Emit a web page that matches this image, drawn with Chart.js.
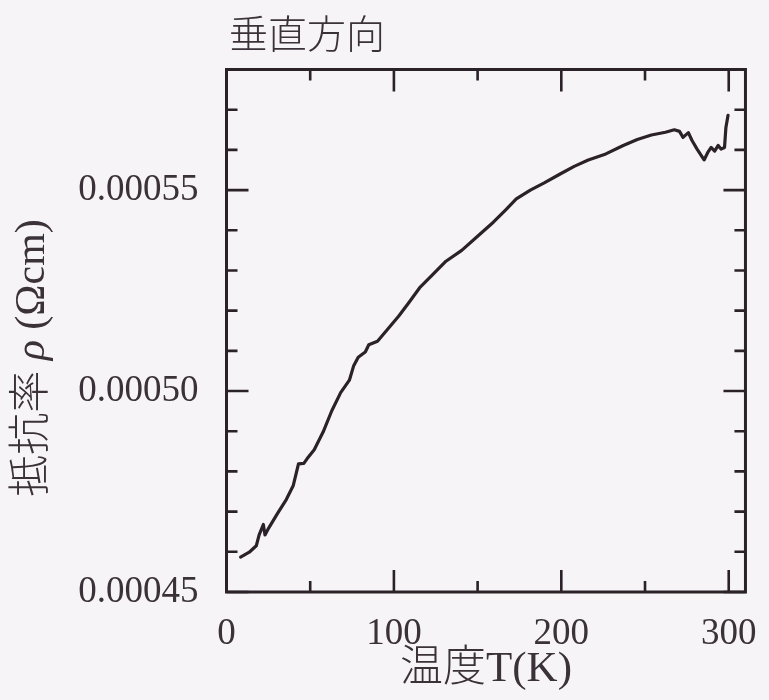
<!DOCTYPE html>
<html>
<head>
<meta charset="utf-8">
<script src="https://cdn.jsdelivr.net/npm/chart.js@4.4.1/dist/chart.umd.min.js"></script>
<style>
html,body{margin:0;padding:0;background:#f7f4f7;}
#wrap{width:769px;height:700px;position:relative;}
</style>
</head>
<body>
<div id="wrap"><canvas id="c" width="769" height="700"></canvas></div>
<script>
// ---- data ----
const temperatureK = [8.4, 13.6, 17.8, 19.5, 22.0, 23.0, 25.2, 30.4, 35.7, 39.9, 43.0, 46.2, 48.2, 52.4, 57.7, 62.9, 68.2, 73.4, 75.9, 78.7, 82.9, 85.0, 90.2, 96.5, 102.8, 109.1, 115.4, 122.7, 131.1, 140.5, 151.0, 159.4, 166.8, 173.1, 181.5, 189.8, 199.3, 207.7, 216.1, 226.6, 237.0, 245.4, 253.8, 262.2, 267.5, 270.6, 272.7, 275.9, 278.0, 281.1, 285.3, 287.4, 289.5, 291.6, 293.7, 295.4, 297.5, 298.3, 299.6];
const resistivity = [0.0004587, 0.0004599, 0.0004615, 0.0004642, 0.0004668, 0.0004642, 0.0004659, 0.0004695, 0.0004730, 0.0004765, 0.0004819, 0.0004820, 0.0004832, 0.0004854, 0.0004898, 0.0004951, 0.0004996, 0.0005027, 0.0005062, 0.0005084, 0.0005097, 0.0005115, 0.0005124, 0.0005155, 0.0005186, 0.0005221, 0.0005257, 0.0005288, 0.0005323, 0.0005350, 0.0005389, 0.0005420, 0.0005451, 0.0005478, 0.0005500, 0.0005518, 0.0005540, 0.0005559, 0.0005575, 0.0005590, 0.0005611, 0.0005626, 0.0005637, 0.0005644, 0.0005650, 0.0005646, 0.0005631, 0.0005643, 0.0005624, 0.0005602, 0.0005575, 0.0005593, 0.0005606, 0.0005597, 0.0005611, 0.0005602, 0.0005606, 0.0005655, 0.0005686];
const xMajorTicks = [0, 100, 200, 300];
const xMinorTicks = [50, 150, 250];
const yMajorTicks = [0.00045, 0.00050, 0.00055];
const yMinorTicks = [0.00046, 0.00047, 0.00048, 0.00049, 0.00051, 0.00052, 0.00053, 0.00054, 0.00056, 0.00057];
const chartTitle = "垂直方向";
const xTitle = "温度T(K)";
const yTitleParts = ["抵抗率 ", "ρ", " (Ωcm)"];

const INK = '#2b2129';
const TEXT = '#3a3139';
const SERIF = '"Liberation Serif", "Noto Sans CJK JP", serif';

const bgPlugin = {
  id: 'bg',
  beforeDraw(chart) {
    const ctx = chart.ctx;
    ctx.save();
    ctx.fillStyle = '#f7f4f7';
    ctx.fillRect(0, 0, chart.width, chart.height);
    ctx.restore();
  }
};

const framePlugin = {
  id: 'frame',
  afterDatasetsDraw(chart) {
    const {ctx, chartArea: a, scales} = chart;
    const xs = scales.x, ys = scales.y;
    ctx.save();
    ctx.strokeStyle = INK;
    ctx.lineCap = 'butt';
    ctx.lineWidth = 2.6;
    const tick = (vals, len) => {
      vals.forEach(v => {
        const px = xs.getPixelForValue(v);
        ctx.beginPath();
        ctx.moveTo(px, a.bottom); ctx.lineTo(px, a.bottom - len);
        ctx.moveTo(px, a.top); ctx.lineTo(px, a.top + len);
        ctx.stroke();
      });
    };
    const ytick = (vals, len) => {
      vals.forEach(v => {
        const py = ys.getPixelForValue(v);
        ctx.beginPath();
        ctx.moveTo(a.left, py); ctx.lineTo(a.left + len, py);
        ctx.moveTo(a.right, py); ctx.lineTo(a.right - len, py);
        ctx.stroke();
      });
    };
    tick(xMajorTicks, 22);
    tick(xMinorTicks, 11);
    ytick(yMajorTicks, 22);
    ytick(yMinorTicks, 11);
    ctx.lineWidth = 3;
    ctx.strokeRect(a.left, a.top, a.right - a.left, a.bottom - a.top);
    ctx.restore();
  }
};

const titlesPlugin = {
  id: 'titles',
  afterDraw(chart) {
    const {ctx, chartArea: a} = chart;
    ctx.save();
    ctx.fillStyle = TEXT;
    ctx.textBaseline = 'middle';
    // main title
    ctx.font = '300 39px "Noto Sans CJK JP", sans-serif';
    ctx.textAlign = 'left';
    ctx.fillText(chartTitle, 229, 33);
    // x title
    ctx.font = '300 43px ' + SERIF;
    ctx.textAlign = 'center';
    ctx.fillText(xTitle, (a.left + a.right) / 2, 670);
    // y title (rotated, italic rho)
    const fonts = ['300 42px ' + SERIF, 'italic 300 42px ' + SERIF, '300 42px ' + SERIF];
    let total = 0;
    const widths = yTitleParts.map((p, i) => { ctx.font = fonts[i]; const w = ctx.measureText(p).width; total += w; return w; });
    ctx.translate(33, 358);
    ctx.rotate(-Math.PI / 2);
    ctx.textAlign = 'left';
    let xpos = -total / 2;
    yTitleParts.forEach((p, i) => { ctx.font = fonts[i]; ctx.fillText(p, xpos, 0); xpos += widths[i]; });
    ctx.restore();
  }
};

new Chart(document.getElementById('c'), {
  type: 'line',
  data: {
    datasets: [{
      data: temperatureK.map((t, i) => ({x: t, y: resistivity[i]})),
      borderColor: INK,
      borderWidth: 3.2,
      borderCapStyle: 'round',
      borderJoinStyle: 'round',
      pointRadius: 0,
      tension: 0,
      fill: false
    }]
  },
  options: {
    responsive: false,
    devicePixelRatio: 1,
    animation: false,
    layout: {padding: {top: 69.5, right: 16.5, left: 0, bottom: 0}},
    plugins: {legend: {display: false}, tooltip: {enabled: false}, title: {display: false}},
    scales: {
      x: {
        type: 'linear',
        min: 0, max: 310,
        grid: {display: false},
        border: {display: false},
        afterFit: s => { s.height = 108; },
        afterBuildTicks: s => { s.ticks = xMajorTicks.map(v => ({value: v})); },
        ticks: {
          padding: 12,
          color: TEXT,
          font: {family: SERIF, size: 37},
          maxRotation: 0,
          callback: v => String(v)
        }
      },
      y: {
        type: 'linear',
        min: 0.00045, max: 0.00058,
        grid: {display: false},
        border: {display: false},
        afterFit: s => { s.width = 226.5; },
        afterBuildTicks: s => { s.ticks = yMajorTicks.map(v => ({value: v})); },
        ticks: {
          padding: 20,
          color: TEXT,
          font: {family: SERIF, size: 37},
          callback: v => Number(v).toFixed(5)
        }
      }
    }
  },
  plugins: [bgPlugin, framePlugin, titlesPlugin]
});
</script>
</body>
</html>
